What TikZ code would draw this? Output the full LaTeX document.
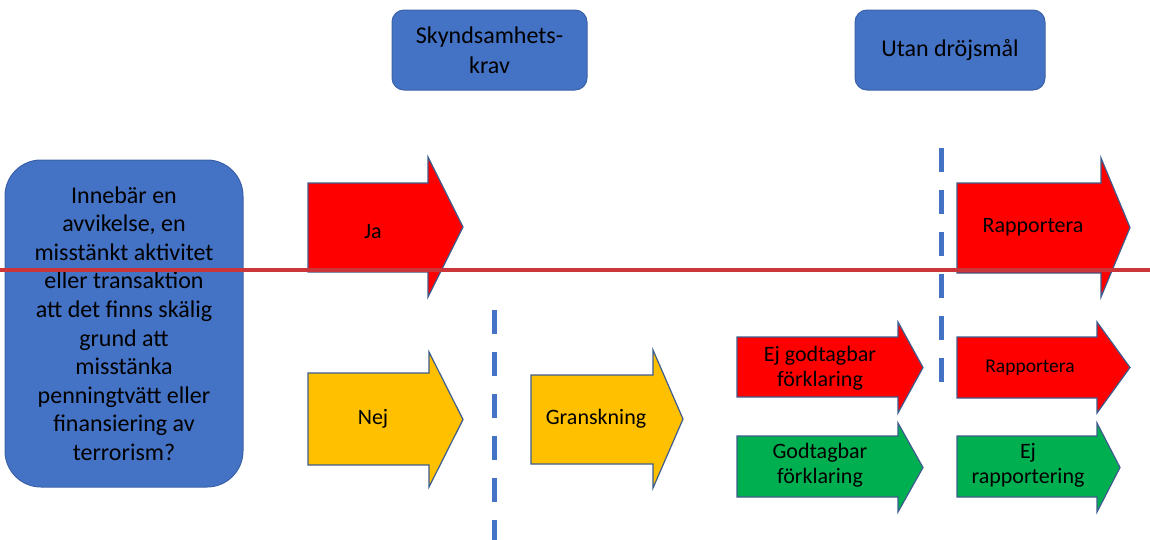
\documentclass[tikz,border=0pt]{standalone}
\usepackage{fontspec}
\setmainfont{Carlito}
\definecolor{boxblue}{HTML}{4472C4}
\definecolor{boxedge}{HTML}{3B62A8}
\definecolor{arredge}{HTML}{3E5C8E}
\definecolor{arrred}{HTML}{FF0000}
\definecolor{arryellow}{HTML}{FFC000}
\definecolor{arrgreen}{HTML}{00B050}
\definecolor{lineRed}{HTML}{CB363B}
\newcommand\shapearrow[8]{%
  \path[#1] (#2,#3) -- (#5,#3) -- (#5,#6) -- (#8,{(#6+#7)/2}) -- (#5,#7) -- (#5,#4) -- (#2,#4) -- cycle;}
\begin{document}
\begin{tikzpicture}[x=1pt,y=-1pt,
  bluebox/.style={draw=boxedge, line width=1pt, fill=boxblue, align=center, inner sep=0pt},
  redarrow/.style={draw=arredge, line width=1.2pt, fill=arrred, line join=miter},
  yellowarrow/.style={draw=arredge, line width=1.2pt, fill=arryellow, line join=miter},
  greenarrow/.style={draw=arredge, line width=1.2pt, fill=arrgreen, line join=miter},
  arrlabel/.style={align=center, inner sep=0pt, font=\fontsize{22}{25}\selectfont},
  divider/.style={draw=boxblue, line width=5pt, dash pattern=on 24pt off 18pt},
  redline/.style={draw=lineRed, line width=4pt}]
\useasboundingbox (0,0) rectangle (1150,539);
% header boxes
\node[bluebox, minimum width=195pt, minimum height=80pt, rounded corners=12pt,
      font=\fontsize{24}{30}\selectfont] (krav) at (489.5,50) {Skyndsamhets-\\krav};
\node[bluebox, minimum width=190pt, minimum height=80pt, rounded corners=12pt,
      font=\fontsize{24}{30}\selectfont] (utan) at (950,50) {Utan dröjsmål};
% question box
\node[bluebox, minimum width=238pt, minimum height=327pt, rounded corners=36pt,
      font=\fontsize{24}{28.6}\selectfont] (q) at (124,323.5)
  {Innebär en\\avvikelse, en\\misstänkt aktivitet\\eller transaktion\\att det finns skälig\\grund att\\misstänka\\penningtvätt eller\\finansiering av\\terrorism?};
% arrows
\shapearrow{redarrow}{308}{183}{272}{428}{157}{297}{463}
\shapearrow{yellowarrow}{308}{373}{465}{429}{352}{487}{463}
\shapearrow{yellowarrow}{531}{375}{464}{653}{350}{488}{683}
\shapearrow{redarrow}{957}{183}{273}{1101}{158}{297}{1130}
\shapearrow{redarrow}{737}{337}{397}{898}{322}{413}{923}
\shapearrow{redarrow}{957}{337}{398}{1097}{322}{413}{1130}
\shapearrow{greenarrow}{737}{436}{497}{898}{423}{512}{923}
\shapearrow{greenarrow}{957}{436}{497}{1097}{423}{512}{1120}
% labels
\node[arrlabel] (ja) at (373,232) {Ja};
\node[arrlabel] (nej) at (373,419) {Nej};
\node[arrlabel] (gr) at (596,419) {Granskning};
\node[arrlabel] (rap1) at (1033,227) {Rapportera};
\node[arrlabel] (ejg) at (820,368) {Ej godtagbar\\förklaring};
\node[arrlabel, font=\fontsize{19.5}{23}\selectfont] (rap2) at (1030,368) {Rapportera};
\node[arrlabel] (god) at (820,465) {Godtagbar\\förklaring};
\node[arrlabel] (ejr) at (1028,465) {Ej\\rapportering};
% dividers
\coordinate (d1a) at (494,310);
\coordinate (d1b) at (494,545);
\coordinate (d2a) at (941,148);
\coordinate (d2b) at (941,382);
\draw[divider] (d1a) -- (d1b);
\draw[divider] (d2a) -- (d2b);
% red horizontal line
\coordinate (la) at (0,269.5);
\coordinate (lb) at (1150,269.5);
\draw[redline] (la) -- (lb);
\end{tikzpicture}
\end{document}
